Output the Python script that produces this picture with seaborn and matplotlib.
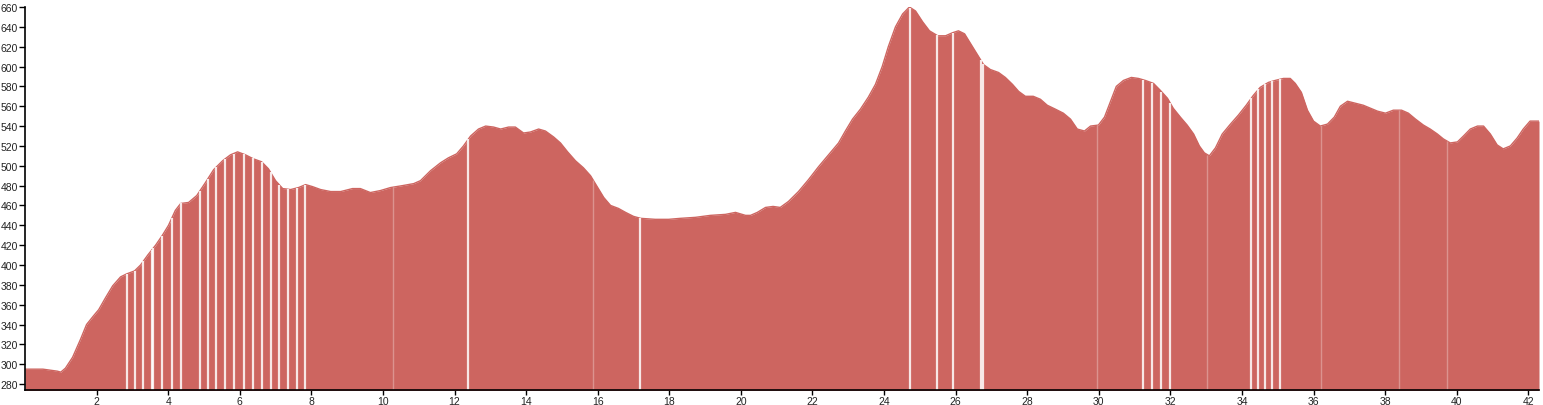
import numpy as np
import pandas as pd
import matplotlib
matplotlib.use('Agg')
import matplotlib.pyplot as plt
import seaborn as sns

# elevation profile (km, m)
km = [0.0, 0.5, 0.9, 1.0, 1.13, 1.33, 1.55, 1.72, 1.92, 2.06, 2.25, 2.45, 2.67, 2.84,
      3.06, 3.23, 3.43, 3.65, 3.84, 4.01, 4.2, 4.35, 4.57, 4.8, 5.04, 5.27, 5.52, 5.74,
      5.94, 6.16, 6.38, 6.61, 6.8, 7.0, 7.2, 7.42, 7.64, 7.84, 8.03, 8.26, 8.54, 8.82,
      9.15, 9.37, 9.65, 9.93, 10.21, 10.55, 10.86, 11.05, 11.33, 11.61, 11.83, 12.06,
      12.25, 12.45, 12.67, 12.87, 13.09, 13.29, 13.51, 13.7, 13.93, 14.12, 14.35, 14.54,
      14.77, 14.96, 15.16, 15.38, 15.6, 15.8, 16.0, 16.17, 16.36, 16.58, 16.78, 17.0,
      17.2, 17.61, 17.98, 18.31, 18.73, 19.15, 19.57, 19.85, 20.13, 20.27, 20.46, 20.69,
      20.9, 21.1, 21.33, 21.61, 21.89, 22.17, 22.45, 22.73, 22.92, 23.12, 23.34, 23.56,
      23.76, 23.95, 24.12, 24.32, 24.52, 24.71, 24.88, 25.08, 25.27, 25.5, 25.72, 25.91,
      26.08, 26.25, 26.42, 26.61, 26.78, 26.97, 27.2, 27.39, 27.59, 27.76, 27.95, 28.17,
      28.37, 28.56, 28.79, 29.01, 29.21, 29.4, 29.6, 29.77, 29.99, 30.16, 30.33, 30.49,
      30.69, 30.91, 31.11, 31.3, 31.53, 31.72, 31.92, 32.08, 32.28, 32.47, 32.65, 32.81,
      32.95, 33.09, 33.26, 33.45, 33.68, 33.9, 34.12, 34.32, 34.51, 34.74, 34.93, 35.16,
      35.35, 35.49, 35.66, 35.83, 36.0, 36.19, 36.39, 36.58, 36.75, 36.95, 37.17, 37.39,
      37.59, 37.79, 38.01, 38.23, 38.46, 38.65, 38.85, 39.07, 39.26, 39.46, 39.63, 39.82,
      40.02, 40.19, 40.38, 40.58, 40.75, 40.94, 41.13, 41.3, 41.5, 41.69, 41.86, 42.05, 42.3]
elevation = [295, 295, 293, 292, 296, 307, 325, 340, 349, 355, 367, 379, 388, 391,
             394, 400, 410, 420, 430, 440, 455, 462, 463, 470, 483, 496, 505, 511,
             514, 511, 507, 504, 497, 485, 477, 476, 478, 481, 479, 476, 474, 474,
             477, 477, 473, 475, 478, 480, 482, 485, 495, 503, 508, 512,
             520, 530, 537, 540, 539, 537, 539, 539, 533, 534, 537, 535,
             529, 523, 514, 505, 498, 490, 478, 468, 460, 457, 453, 449,
             447, 446, 446, 447, 448, 450, 451, 453, 450, 450, 453, 458,
             459, 458, 464, 474, 486, 499, 511, 523, 535, 547, 557, 569,
             582, 600, 620, 640, 653, 660, 656, 645, 636, 631, 631, 634,
             636, 633, 623, 612, 602, 597, 594, 589, 582, 575, 570, 570,
             567, 561, 557, 553, 547, 537, 535, 540, 541, 549, 565, 580,
             586, 589, 588, 586, 583, 576, 568, 558, 549, 541, 532, 520,
             513, 510, 518, 532, 542, 551, 561, 571, 579, 584, 586, 588,
             588, 583, 574, 556, 545, 540, 542, 549, 560, 565, 563, 561,
             558, 555, 553, 556, 556, 553, 547, 541, 537, 532, 527, 523,
             524, 530, 537, 540, 540, 532, 521, 517, 520, 528, 537, 545, 545]

# gaps between segments (km)
gap_km = [2.84, 3.06, 3.31, 3.54, 3.59, 3.82, 4.10, 4.35, 4.88, 5.10, 5.35, 5.60,
          5.83, 6.11, 6.36, 6.61, 6.86, 7.11, 7.36, 7.61, 7.81, 12.38, 17.17,
          24.74, 25.48, 25.93, 26.71, 26.77, 31.25, 31.49, 31.75, 32.0,
          34.26, 34.46, 34.65, 34.85, 35.05]
faint_km = [10.27, 15.88, 29.95, 33.03, 36.2, 38.4, 39.74]

df = pd.DataFrame({'km': km, 'elevation': elevation})

sns.set_style('ticks')
plt.rcParams['font.family'] = ['Liberation Sans', 'DejaVu Sans']

fig = plt.figure(figsize=(15.43, 4.06), dpi=100)
ax = fig.add_axes([25 / 1543, 15 / 406, 1514 / 1543, 383 / 406])

fill_color = '#cd6560'
sns.lineplot(data=df, x='km', y='elevation', ax=ax, color=fill_color, linewidth=1)
ax.fill_between(df['km'], df['elevation'], 270, color=fill_color, linewidth=0)

ymin = 274
gap_top = np.interp(gap_km, km, elevation)
ax.vlines(gap_km, ymin, gap_top, color='white', linewidth=1.6, alpha=0.85)
faint_top = np.interp(faint_km, km, elevation)
ax.vlines(faint_km, ymin, faint_top, color='white', linewidth=1.0, alpha=0.3)

ax.set_xlim(0, 42.3)
ax.set_ylim(ymin, 660)
ax.set_xticks(np.arange(2, 43, 2))
ax.set_yticks(np.arange(280, 661, 20))
ax.set_xlabel('')
ax.set_ylabel('')
ax.tick_params(labelsize=7.5, length=4, width=1, colors='black', labelcolor='#222222', pad=1)
ax.tick_params(axis='x', length=3.5, pad=0.5)
for side in ['top', 'right']:
    ax.spines[side].set_visible(False)
for side in ['left', 'bottom']:
    ax.spines[side].set_linewidth(1.2)
    ax.spines[side].set_color('black')

fig.savefig('out.png', dpi=100)
